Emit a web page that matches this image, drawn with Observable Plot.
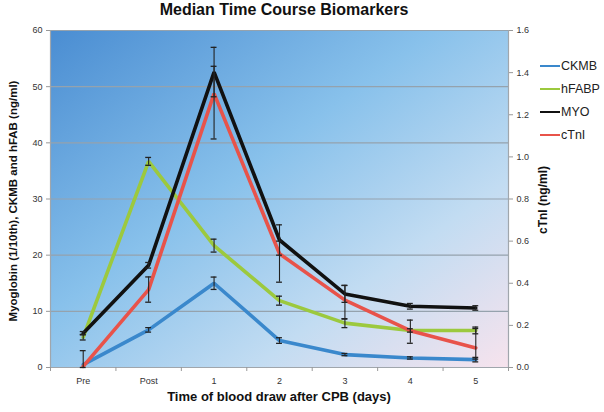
<!DOCTYPE html>
<html><head><meta charset="utf-8">
<script src="https://cdn.jsdelivr.net/npm/d3@7"></script>
<script src="https://cdn.jsdelivr.net/npm/@observablehq/plot@0.6"></script>
<style>
body{margin:0;background:#fff;font-family:"Liberation Sans",Arial,sans-serif;}
#wrap{position:relative;width:604px;height:412px;overflow:hidden;}
#chart{position:absolute;left:0;top:0;}
.t{position:absolute;font-weight:bold;color:#111;white-space:nowrap;}
#title{left:0;top:1px;width:568px;text-align:center;font-size:16px;}
#xt{left:50px;top:389px;width:458px;text-align:center;font-size:13px;}
#yl{left:13px;top:201px;font-size:11.5px;transform:translate(-50%,-50%) rotate(-90deg);}
#yr{left:543px;top:200px;font-size:12px;transform:translate(-50%,-50%) rotate(-90deg);}
#legend{position:absolute;left:540px;top:58px;font-size:12.5px;color:#222;}
.li{position:absolute;left:0;height:16px;display:flex;align-items:center;white-space:nowrap;}
.li span.sw{display:inline-block;width:20px;height:2.5px;margin-right:1px;}
</style></head>
<body>
<div id="wrap">
  <div id="chart"></div>
  <div class="t" id="title">Median Time Course Biomarkers</div>
  <div class="t" id="xt">Time of blood draw after CPB (days)</div>
  <div class="t" id="yl">Myoglobin (1/10th), CKMB and hFAB (ng/ml)</div>
  <div class="t" id="yr">cTnI (ng/ml)</div>
  <div id="legend"></div>
</div>
<script>
// ---- data ----
const categories = ["Pre", "Post", "1", "2", "3", "4", "5"];
const seriesNames = ["CKMB", "hFABP", "MYO", "cTnI"];
const seriesColors = ["#3a88cc", "#9cc93e", "#111111", "#e8534a"];

// left axis (ng/ml; myoglobin as 1/10th)
const ckmb     = [0.5, 6.7, 15.0, 4.8, 2.3, 1.7, 1.4];
const ckmbErr  = [0.0, 0.4, 1.1, 0.5, 0.2, 0.2, 0.4];
const hfabp    = [5.4, 36.7, 21.7, 11.9, 7.9, 6.6, 6.6];
const hfabpErr = [0.5, 0.7, 1.15, 0.8, 0.8, 0.3, 0.6];
const myo      = [6.1, 18.2, 52.6, 22.7, 13.1, 10.9, 10.6];
const myoErr   = [0.3, 0.5, 4.4, 2.7, 1.5, 0.5, 0.4];
// right axis (cTnI ng/ml)
const ctni     = [0.005, 0.37, 1.30, 0.54, 0.32, 0.175, 0.093];
const ctniLo   = [0.0, 0.31, 1.085, 0.405, 0.23, 0.115, 0.04];
const ctniHi   = [0.08, 0.43, 1.43, 0.60, 0.39, 0.225, 0.185];

const leftTicks = [0, 10, 20, 30, 40, 50, 60];
const rightTicks = [0, 0.2, 0.4, 0.6, 0.8, 1.0, 1.2, 1.4, 1.6];
const leftMax = 60, rightMax = 1.6;
const k = leftMax / rightMax; // secondary-axis conversion

// ---- build table ----
const rows = [];
function add(name, vals, lo, hi, scale) {
  vals.forEach((v, i) => rows.push({name, i, y: v * scale, lo: lo[i] * scale, hi: hi[i] * scale}));
}
add("CKMB", ckmb, ckmb.map((v,i)=>v-ckmbErr[i]), ckmb.map((v,i)=>v+ckmbErr[i]), 1);
add("hFABP", hfabp, hfabp.map((v,i)=>v-hfabpErr[i]), hfabp.map((v,i)=>v+hfabpErr[i]), 1);
add("MYO", myo, myo.map((v,i)=>v-myoErr[i]), myo.map((v,i)=>v+myoErr[i]), 1);
add("cTnI", ctni, ctniLo, ctniHi, k);
const errRows = rows.filter(d => d.hi - d.lo > 0.3);
const idx = categories.map((c, i) => i);
const bounds = categories.map((c, i) => i - 0.5).concat([categories.length - 0.5]);
const capW = 0.045;

const plot = Plot.plot({
  width: 604, height: 412,
  marginLeft: 50, marginRight: 96, marginTop: 30, marginBottom: 45,
  style: {fontFamily: "Liberation Sans, Arial, sans-serif", fontSize: "9px", background: "transparent", color: "#333"},
  x: {type: "linear", domain: [-0.5, categories.length - 0.5]},
  y: {domain: [0, leftMax]},
  color: {domain: seriesNames, range: seriesColors},
  marks: [
    Plot.frame({fill: "url(#bg)", stroke: null}),
    Plot.ruleY(leftTicks.slice(1), {stroke: "#95a2ad", strokeWidth: 1.1}),
    Plot.ruleX([-0.5], {stroke: "#a0a6ac", strokeWidth: 1.2}),
    Plot.ruleX([categories.length - 0.5], {stroke: "#a0a6ac", strokeWidth: 1.2}),
    Plot.ruleY([0], {stroke: "#a0a6ac", strokeWidth: 1.2}),
    Plot.axisY({ticks: leftTicks, tickSize: 4, tickPadding: 4, label: null, stroke: "#999", fill: "#333"}),
    Plot.axisY({anchor: "right", ticks: rightTicks.map(t => t * k), tickFormat: d => (d / k).toFixed(1),
      tickSize: 4, tickPadding: 4, label: null, stroke: "#999", fill: "#333"}),
    Plot.axisX({ticks: idx, tickFormat: i => categories[i], tickSize: 0, tickPadding: 10, label: null, fill: "#333"}),
    Plot.axisX({ticks: bounds, tickFormat: () => "", tickSize: 4, label: null, stroke: "#999"}),
    Plot.line(rows, {x: "i", y: "y", z: "name", stroke: "name", strokeWidth: 3.6, strokeLinejoin: "miter"}),
    Plot.ruleX(errRows, {x: "i", y1: "lo", y2: "hi", stroke: "#222", strokeWidth: 1.1}),
    Plot.ruleY(errRows, {y: "lo", x1: d => d.i - capW, x2: d => d.i + capW, stroke: "#222", strokeWidth: 1.3}),
    Plot.ruleY(errRows, {y: "hi", x1: d => d.i - capW, x2: d => d.i + capW, stroke: "#222", strokeWidth: 1.3})
  ]
});

const ns = "http://www.w3.org/2000/svg";
const defs = document.createElementNS(ns, "defs");
defs.innerHTML = '<linearGradient id="bg" x1="0" y1="0" x2="1" y2="1">' +
  '<stop offset="0" stop-color="#4a8dd2"/>' +
  '<stop offset="0.42" stop-color="#88c1eb"/>' +
  '<stop offset="0.72" stop-color="#c2dcf2"/>' +
  '<stop offset="1" stop-color="#f7e3ed"/>' +
  '</linearGradient>';
plot.prepend(defs);
document.getElementById("chart").appendChild(plot);

// legend
const lg = document.getElementById("legend");
const legendY = [0, 23, 46, 69];
seriesNames.forEach((n, i) => {
  const d = document.createElement("div");
  d.className = "li";
  d.style.top = legendY[i] + "px";
  d.innerHTML = '<span class="sw" style="background:' + seriesColors[i] + '"></span>' + n;
  lg.appendChild(d);
});
</script>
</body></html>
